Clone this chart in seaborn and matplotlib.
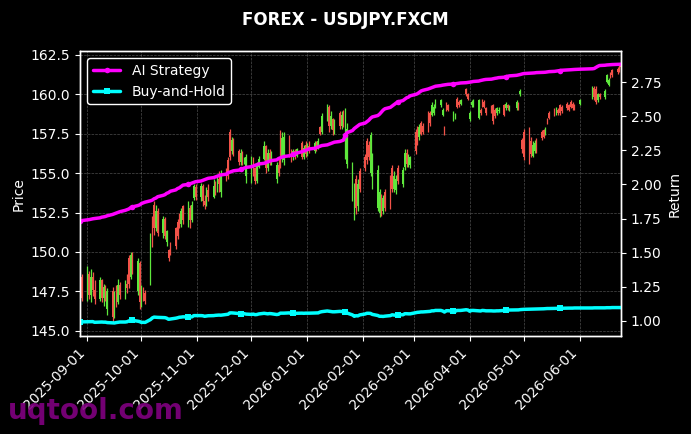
import numpy as np
import pandas as pd
import matplotlib
matplotlib.use('Agg')
import matplotlib.pyplot as plt
import matplotlib.dates as mdates
import seaborn as sns

# trading days (a few days have no data)
dates = pd.bdate_range('2025-08-28', '2026-06-24')
dates = dates.drop(pd.to_datetime(['2026-04-24', '2026-06-02', '2026-06-03',
                                   '2026-06-04', '2026-06-05']))

opens = [
    147.2, 148.4,
    147.2, 148.6, 147.3, 148.4, 147.6,  147.0, 148.2, 147.1, 147.8, 146.4,
    147.5, 145.9, 147.2, 146.8, 147.9,  147.3, 148.0, 149.6, 148.4, 149.8,
    147.5, 149.3, 146.8, 147.6, 147.4,  148.2, 152.0, 153.0, 151.5, 152.6,
    151.2, 152.1, 150.6, 150.1, 150.3,  151.5, 151.9, 152.4, 151.8, 152.9,
    152.0, 152.8, 152.0, 153.4, 154.1,  153.5, 154.2, 153.2, 153.0, 153.9,
    153.5, 154.2, 154.0, 154.6, 153.8,  155.2, 155.8, 157.6, 156.4, 157.0,
    156.4, 155.7, 156.3, 155.8, 154.8,  154.6, 155.8, 155.3, 154.5, 155.4,
    155.9, 156.7, 155.3, 156.3, 155.7,  154.6, 155.5, 157.5, 155.9, 155.8,
    157.3, 156.2, 156.0, 156.4, 156.1,  156.9, 156.0, 156.8, 156.2, 156.7,
    156.4, 156.9, 156.6, 157.9, 157.6,  158.6, 159.2, 158.0, 158.4, 157.7,
    158.8, 158.0, 158.7, 156.2, 155.6,  153.5, 152.3, 154.6, 152.9, 155.1,
    156.0, 157.0, 156.8, 155.0, 154.2,  152.8, 152.5, 153.6, 152.6, 153.8,
    154.6, 155.3, 154.0, 153.9, 155.3,  154.3, 155.4, 156.3, 155.6, 155.5,
    157.6, 157.9, 157.3, 158.2, 158.0,  158.7, 158.8, 158.7, 158.8, 159.2,
    159.3, 158.7, 157.9, 159.4, 159.3,  158.4, 158.5, 159.7, 159.5, 159.4,
    160.3, 160.0, 158.4, 159.3, 159.3,  158.5, 159.0, 159.6, 159.5, 159.1,
    159.2, 159.3, 159.0, 158.8, 158.9,  159.3, 159.1, 159.3, 159.0,
    159.1, 159.4, 160.0, 157.1, 157.6,  157.7, 157.0, 156.1, 156.4, 157.0,
    157.6, 157.7, 157.5, 158.4, 158.8,  159.0, 158.8, 159.0, 159.3, 159.2,
    159.4, 159.3, 159.5, 159.4, 159.3,  159.4,
    159.8, 160.4, 160.3, 159.6, 160.0,  159.8, 160.8, 160.6, 161.3, 161.5,
    161.6, 161.8, 161.9,
]
closes = [
    147.6, 147.1,
    148.6, 147.3, 148.4, 147.6, 147.0,  148.2, 147.1, 147.8, 147.2, 147.5,
    145.9, 147.2, 146.8, 147.9, 147.3,  148.0, 147.7, 148.0, 149.8, 149.0,
    149.4, 146.8, 147.6, 147.1, 146.9,  150.8, 150.6, 151.5, 152.6, 151.2,
    152.1, 151.0, 151.3, 149.6, 150.0,  150.4, 151.0, 151.7, 152.6, 152.0,
    152.8, 152.0, 153.0, 154.2, 153.5,  154.2, 153.2, 153.0, 153.9, 153.5,
    154.2, 154.0, 154.6, 154.3, 154.8,  154.7, 154.8, 156.0, 157.1, 156.4,
    155.7, 156.3, 155.8, 155.9, 156.0,  155.8, 155.2, 154.5, 155.5, 155.9,
    156.7, 155.3, 156.3, 155.7, 156.2,  155.5, 155.0, 155.6, 157.2, 157.3,
    156.2, 156.0, 156.4, 156.1, 156.5,  156.0, 156.6, 156.2, 156.7, 156.4,
    156.9, 156.6, 157.0, 157.5, 158.6,  159.2, 158.0, 158.6, 157.7, 158.3,
    158.0, 158.7, 158.1, 158.9, 157.8,  155.5, 154.0, 152.8, 154.3, 154.0,
    155.3, 155.8, 156.0, 157.4, 156.0,  155.2, 153.8, 152.6, 153.4, 152.8,
    153.0, 154.0, 154.8, 154.6, 154.5,  155.2, 156.3, 155.6, 156.0, 156.0,
    156.4, 157.0, 157.9, 157.5, 157.6,  157.8, 158.2, 159.3, 159.2, 159.6,
    159.6, 159.0, 157.6, 159.0, 159.0,  158.8, 158.7, 159.2, 159.3, 159.6,
    160.0, 159.7, 158.8, 159.5, 159.6,  159.6, 158.8, 159.3, 159.2, 158.8,
    158.9, 158.3, 158.6, 159.1, 159.0,  158.7, 159.4, 159.1, 159.2,
    159.5, 159.1, 160.2, 156.5, 156.0,  155.9, 156.2, 156.8, 156.9, 156.5,
    157.2, 157.3, 157.8, 158.2, 158.5,  158.7, 159.1, 158.8, 158.8, 158.9,
    159.1, 159.0, 159.2, 159.1, 159.1,  159.6,
    160.4, 159.8, 159.5, 160.0, 159.8,  160.2, 161.2, 160.9, 161.1, 161.2,
    161.4, 161.5, 161.7,
]
highs = [
    147.8, 148.6,
    149.1, 148.8, 148.9, 148.7, 148.2,  148.4, 148.3, 148.0, 147.9, 147.7,
    147.8, 147.5, 147.9, 148.3, 148.1,  148.2, 148.6, 149.8, 150.0, 150.0,
    149.6, 149.4, 147.9, 147.8, 147.6,  151.2, 152.3, 153.2, 153.0, 152.8,
    152.3, 152.2, 151.4, 150.2, 150.6,  151.6, 152.1, 152.5, 152.8, 153.0,
    153.2, 153.0, 153.2, 154.3, 154.3,  154.4, 154.3, 153.6, 154.1, 154.3,
    154.6, 154.5, 154.8, 155.1, 155.2,  155.3, 156.0, 157.8, 157.3, 157.2,
    156.5, 156.5, 156.4, 156.0, 156.2,  156.1, 156.0, 155.4, 155.7, 156.1,
    157.0, 156.8, 156.5, 156.5, 156.4,  155.7, 155.9, 157.7, 157.6, 157.6,
    157.4, 156.5, 156.5, 156.5, 156.6,  157.0, 156.8, 157.0, 156.9, 157.0,
    157.0, 157.0, 157.2, 158.0, 158.8,  159.4, 159.3, 158.9, 158.5, 158.4,
    158.9, 158.9, 159.0, 159.1, 158.2,  155.7, 154.4, 154.9, 154.6, 155.3,
    156.2, 157.2, 157.0, 157.6, 156.3,  155.5, 154.0, 153.7, 153.6, 154.0,
    154.9, 155.5, 155.1, 154.9, 155.5,  155.4, 156.5, 156.5, 156.2, 156.1,
    157.8, 158.0, 158.1, 158.3, 158.2,  158.9, 158.9, 159.5, 159.4, 159.7,
    159.7, 159.1, 158.0, 159.5, 159.4,  158.9, 158.8, 159.8, 159.6, 159.7,
    160.4, 160.1, 158.9, 159.6, 159.7,  159.7, 159.1, 159.7, 159.6, 159.2,
    159.3, 159.4, 159.1, 159.2, 159.2,  159.4, 159.5, 159.4, 159.3,
    159.6, 159.5, 160.3, 157.2, 157.8,  157.9, 157.3, 157.0, 157.1, 157.2,
    157.7, 157.8, 157.9, 158.5, 158.9,  159.1, 159.2, 159.1, 159.4, 159.3,
    159.5, 159.4, 159.6, 159.5, 159.4,  159.7,
    160.5, 160.5, 160.5, 160.1, 160.1,  160.3, 161.3, 161.0, 161.4, 161.6,
    161.7, 161.9, 161.9,
]
lows = [
    147.0, 146.9,
    146.9, 147.0, 146.8, 147.2, 146.7,  146.9, 146.8, 146.6, 146.9, 146.0,
    145.5, 145.8, 146.5, 146.7, 147.0,  147.0, 147.4, 147.7, 148.3, 148.6,
    147.3, 146.4, 146.5, 146.9, 146.7,  147.9, 150.3, 151.1, 151.3, 151.0,
    150.9, 150.8, 150.4, 149.4, 149.8,  150.2, 150.8, 151.5, 151.6, 151.8,
    151.6, 151.5, 151.9, 153.3, 153.3,  153.2, 152.9, 152.7, 152.9, 153.2,
    153.4, 153.6, 153.8, 153.8, 153.5,  154.5, 154.6, 155.8, 156.2, 156.1,
    155.5, 155.5, 155.5, 155.6, 154.4,  154.4, 154.8, 154.3, 154.4, 155.3,
    155.8, 155.0, 155.1, 155.5, 155.5,  154.4, 154.8, 155.3, 155.7, 155.5,
    156.0, 155.7, 155.8, 155.9, 156.0,  155.9, 155.9, 156.0, 156.1, 156.3,
    156.3, 156.4, 156.5, 157.4, 157.5,  158.3, 157.6, 157.8, 157.4, 157.5,
    157.8, 157.8, 157.9, 155.9, 155.3,  153.2, 152.0, 152.4, 152.6, 153.8,
    155.1, 155.6, 155.8, 154.8, 154.0,  152.6, 152.2, 152.3, 152.4, 152.6,
    152.7, 153.8, 153.8, 153.7, 154.3,  154.1, 155.2, 155.4, 155.4, 155.3,
    156.2, 156.8, 157.1, 157.4, 157.5,  157.6, 158.0, 158.6, 158.7, 159.1,
    159.2, 158.6, 157.4, 158.9, 158.9,  158.3, 158.4, 159.1, 159.2, 159.3,
    159.9, 159.6, 158.3, 159.2, 159.2,  158.4, 158.7, 159.2, 159.1, 158.7,
    158.8, 158.1, 158.5, 158.7, 158.8,  158.6, 159.0, 159.0, 158.9,
    159.0, 159.0, 159.9, 156.3, 155.8,  155.6, 156.0, 156.0, 156.3, 156.3,
    157.1, 157.2, 157.4, 158.1, 158.4,  158.6, 158.7, 158.7, 158.7, 158.8,
    159.0, 158.9, 159.1, 159.0, 159.0,  159.3,
    159.7, 159.6, 159.4, 159.5, 159.7,  159.7, 160.7, 160.5, 161.0, 161.1,
    161.3, 161.4, 161.6,
]

ai_return = [
    1.730, 1.735,
    1.740, 1.742, 1.745, 1.748, 1.750,  1.755, 1.760, 1.762, 1.765, 1.770,
    1.780, 1.785, 1.790, 1.795, 1.800,  1.810, 1.815, 1.820, 1.830, 1.835,
    1.845, 1.850, 1.860, 1.865, 1.870,  1.880, 1.885, 1.895, 1.900, 1.910,
    1.920, 1.925, 1.935, 1.940, 1.950,  1.960, 1.970, 1.975, 1.985, 1.995,
    2.000, 2.005, 2.010, 2.015, 2.020,  2.025, 2.030, 2.035, 2.040, 2.045,
    2.050, 2.055, 2.060, 2.065, 2.070,  2.075, 2.085, 2.090, 2.095, 2.100,
    2.105, 2.110, 2.115, 2.120, 2.125,  2.130, 2.135, 2.140, 2.145, 2.150,
    2.155, 2.160, 2.165, 2.170, 2.175,  2.180, 2.190, 2.195, 2.200, 2.205,
    2.210, 2.215, 2.220, 2.225, 2.230,  2.240, 2.245, 2.250, 2.255, 2.260,
    2.265, 2.270, 2.275, 2.280, 2.285,  2.290, 2.295, 2.300, 2.305, 2.310,
    2.315, 2.320, 2.325, 2.360, 2.380,  2.395, 2.410, 2.420, 2.430, 2.440,
    2.450, 2.460, 2.470, 2.485, 2.495,  2.505, 2.515, 2.530, 2.545, 2.555,
    2.565, 2.575, 2.585, 2.595, 2.605,  2.615, 2.625, 2.635, 2.640, 2.650,
    2.660, 2.665, 2.675, 2.685, 2.690,  2.700, 2.705, 2.710, 2.715, 2.720,
    2.725, 2.728, 2.730, 2.732, 2.734,  2.736, 2.738, 2.740, 2.742, 2.744,
    2.746, 2.748, 2.750, 2.752, 2.755,  2.758, 2.762, 2.765, 2.768, 2.770,
    2.772, 2.775, 2.778, 2.780, 2.783,  2.786, 2.790, 2.793, 2.796,
    2.800, 2.803, 2.806, 2.810, 2.813,  2.815, 2.816, 2.817, 2.818, 2.820,
    2.821, 2.822, 2.823, 2.825, 2.827,  2.829, 2.831, 2.833, 2.835, 2.837,
    2.839, 2.840, 2.841, 2.842, 2.843,  2.845,
    2.848, 2.850, 2.858, 2.866, 2.872,  2.874, 2.876, 2.877, 2.878, 2.879,
    2.880, 2.881, 2.882,
]
bh_return = [
    0.990, 0.992,
    0.993, 0.993, 0.993, 0.994, 0.989,  0.991, 0.991, 0.990, 0.990, 0.987,
    0.985, 0.984, 0.987, 0.989, 0.991,  0.991, 0.993, 0.999, 1.001, 1.003,
    0.997, 0.994, 0.988, 0.989, 0.988,  1.009, 1.021, 1.027, 1.026, 1.025,
    1.023, 1.023, 1.019, 1.011, 1.013,  1.019, 1.022, 1.026, 1.027, 1.029,
    1.028, 1.028, 1.029, 1.038, 1.038,  1.038, 1.037, 1.033, 1.035, 1.037,
    1.038, 1.040, 1.041, 1.042, 1.041,  1.046, 1.048, 1.058, 1.058, 1.057,
    1.053, 1.053, 1.053, 1.052, 1.049,  1.047, 1.049, 1.045, 1.046, 1.050,
    1.055, 1.053, 1.051, 1.053, 1.052,  1.046, 1.048, 1.056, 1.056, 1.056,
    1.058, 1.053, 1.054, 1.054, 1.055,  1.056, 1.055, 1.056, 1.056, 1.056,
    1.057, 1.058, 1.058, 1.064, 1.067,  1.072, 1.070, 1.068, 1.066, 1.066,
    1.069, 1.068, 1.069, 1.063, 1.057,  1.043, 1.033, 1.037, 1.036, 1.043,
    1.050, 1.055, 1.055, 1.054, 1.047,  1.039, 1.033, 1.033, 1.032, 1.034,
    1.038, 1.044, 1.042, 1.041, 1.045,  1.044, 1.052, 1.052, 1.051, 1.051,
    1.059, 1.062, 1.063, 1.065, 1.065,  1.068, 1.069, 1.073, 1.073, 1.076,
    1.076, 1.072, 1.064, 1.074, 1.074,  1.070, 1.070, 1.076, 1.076, 1.076,
    1.081, 1.079, 1.070, 1.076, 1.076,  1.073, 1.072, 1.076, 1.075, 1.073,
    1.073, 1.072, 1.072, 1.073, 1.073,  1.076, 1.078, 1.078, 1.079,
    1.080, 1.080, 1.082, 1.083, 1.084,  1.085, 1.085, 1.086, 1.086, 1.087,
    1.088, 1.088, 1.089, 1.090, 1.090,  1.091, 1.091, 1.092, 1.092, 1.092,
    1.093, 1.093, 1.093, 1.093, 1.094,  1.094,
    1.094, 1.095, 1.095, 1.095, 1.095,  1.095, 1.096, 1.096, 1.096, 1.097,
    1.097, 1.097, 1.097,
]

df = pd.DataFrame({'date': dates, 'open': opens, 'high': highs, 'low': lows,
                   'close': closes, 'ai': ai_return, 'bh': bh_return})

sns.set_theme(style='ticks', rc={
    'figure.facecolor': 'black', 'axes.facecolor': 'black',
    'axes.edgecolor': 'white', 'axes.labelcolor': 'white',
    'text.color': 'white', 'xtick.color': 'white', 'ytick.color': 'white',
    'font.size': 10, 'axes.labelsize': 10, 'xtick.labelsize': 10,
    'ytick.labelsize': 10, 'legend.fontsize': 10,
    'axes.linewidth': 1.0, 'xtick.major.size': 3.5, 'ytick.major.size': 3.5,
    'xtick.major.width': 0.8, 'ytick.major.width': 0.8,
})
plt.rcParams['font.family'] = ['DejaVu Sans']

fig, ax = plt.subplots(figsize=(6.91, 4.34), dpi=100)
fig.subplots_adjust(left=0.116, right=0.899, top=0.882, bottom=0.226)

# candlesticks
up = df['close'] >= df['open']
colors = np.where(up, '#5ee83c', '#f25248')
ax.vlines(df['date'], df['low'], df['high'], colors=colors, linewidth=0.9)
body_low = df[['open', 'close']].min(axis=1)
body_h = (df['close'] - df['open']).abs().clip(lower=0.08)
ax.bar(df['date'], body_h, bottom=body_low, width=0.8, color=colors, linewidth=0)

ax.set_xlim(df['date'].iloc[0], df['date'].iloc[-1])
ax.set_ylabel('Price')
ax.set_xlabel('')
ax.grid(True, color='gray', linestyle='--', linewidth=0.5, alpha=0.6)
ax.xaxis.set_major_locator(mdates.MonthLocator())
ax.xaxis.set_major_formatter(mdates.DateFormatter('%Y-%m-%d'))
plt.setp(ax.get_xticklabels(), rotation=45, ha='right')

# returns on twin axis
ax2 = ax.twinx()
sns.lineplot(data=df, x='date', y='ai', ax=ax2, color='#ff00ff', linewidth=2.5,
             marker='o', markersize=4, markeredgewidth=0, markevery=21,
             label='AI Strategy')
sns.lineplot(data=df, x='date', y='bh', ax=ax2, color='#00ffff', linewidth=2.5,
             marker='s', markersize=4, markeredgewidth=0, markevery=21,
             label='Buy-and-Hold')
ax2.set_ylabel('Return')
ax2.set_xlabel('')
ax2.set_xlim(df['date'].iloc[0], df['date'].iloc[-1])
for side in ['left', 'right', 'top', 'bottom']:
    ax2.spines[side].set_color('white')
leg = ax2.legend(loc='upper left', facecolor='black', edgecolor='white', framealpha=1)
for t in leg.get_texts():
    t.set_color('white')

fig.suptitle('FOREX - USDJPY.FXCM', fontsize=12, fontweight='bold', color='white', y=0.975)
fig.text(0.012, 0.035, 'uqtool.com', fontsize=20, fontweight='bold', color='#800080', alpha=0.9)

fig.savefig('out.png', dpi=100, facecolor='black')
